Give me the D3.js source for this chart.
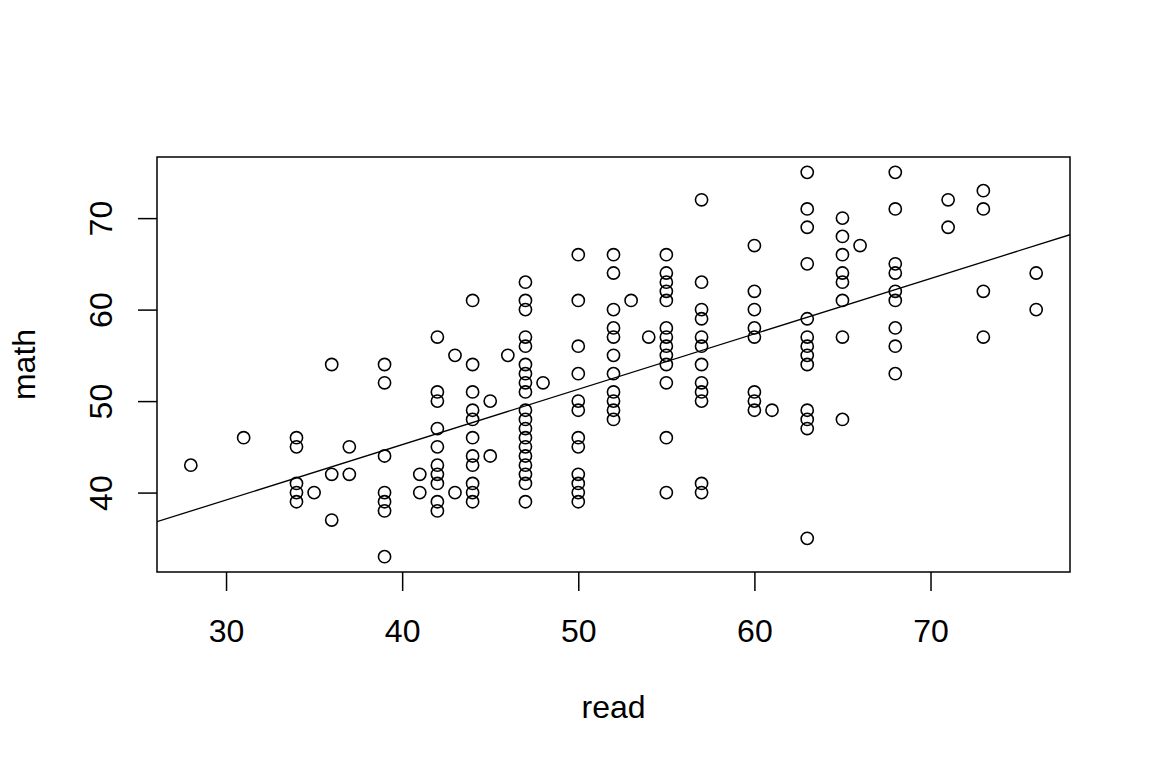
<!DOCTYPE html>
<html>
<head>
<meta charset="utf-8">
<script src="https://cdn.jsdelivr.net/npm/d3@7"></script>
<style>
  html, body { margin: 0; padding: 0; background: #fff; }
  text { font-family: "Liberation Sans", Arial, sans-serif; fill: #000; }
</style>
</head>
<body>
<svg id="chart" width="1152" height="768"></svg>
<script>
// Data: read scores (x) and the math scores observed at each read score (y)
const readValues = [28, 31, 34, 35, 36, 37, 39, 41, 42, 43, 44, 45, 46, 47, 48, 50, 52, 53, 54, 55, 57, 60, 61, 63, 65, 66, 68, 71, 73, 76];
const mathValues = [
  [43],
  [46],
  [46, 45, 41, 40, 39],
  [40],
  [54, 42, 37],
  [45, 42],
  [54, 52, 44, 40, 39, 38, 33],
  [42, 40],
  [57, 51, 50, 47, 45, 43, 42, 41, 39, 38],
  [55, 40],
  [61, 54, 51, 49, 48, 46, 44, 43, 41, 40, 39],
  [50, 44],
  [55],
  [63, 61, 60, 57, 56, 54, 53, 52, 51, 49, 48, 47, 46, 45, 44, 43, 42, 41, 39],
  [52],
  [66, 61, 56, 53, 50, 49, 46, 45, 42, 41, 40, 39],
  [66, 64, 60, 58, 57, 55, 53, 51, 50, 49, 48],
  [61],
  [57],
  [66, 64, 63, 62, 61, 58, 57, 56, 55, 54, 52, 46, 40],
  [72, 63, 60, 59, 57, 56, 54, 52, 51, 50, 41, 40],
  [67, 62, 60, 58, 57, 51, 50, 49],
  [49],
  [75, 71, 69, 65, 59, 57, 56, 55, 54, 49, 48, 47, 35],
  [70, 68, 66, 64, 63, 61, 57, 48],
  [67],
  [75, 71, 65, 64, 62, 61, 58, 56, 53],
  [72, 69],
  [73, 71, 62, 57],
  [64, 60]
];
const xTicks = [30, 40, 50, 60, 70];
const yTicks = [40, 50, 60, 70];
const fitIntercept = 21.0382;
const fitSlope = 0.6051;
const xLabel = "read";
const yLabel = "math";

(function () {
const points = [];
readValues.forEach((r, i) => mathValues[i].forEach(m => points.push({ read: r, math: m })));

const svg = d3.select("#chart");
const pL = 157, pR = 1070, pT = 157, pB = 572;

// R-style 4% axis extension
const xmin = d3.min(points, d => d.read), xmax = d3.max(points, d => d.read);
const ymin = d3.min(points, d => d.math), ymax = d3.max(points, d => d.math);
const xpad = (xmax - xmin) * 0.04, ypad = (ymax - ymin) * 0.04;
const x = d3.scaleLinear().domain([xmin - xpad, xmax + xpad]).range([pL, pR]);
const y = d3.scaleLinear().domain([ymin - ypad, ymax + ypad]).range([pB, pT]);

svg.append("defs").append("clipPath").attr("id", "plotclip")
  .append("rect").attr("x", pL).attr("y", pT).attr("width", pR - pL).attr("height", pB - pT);

// points
svg.append("g").selectAll("circle").data(points).join("circle")
  .attr("cx", d => x(d.read))
  .attr("cy", d => y(d.math))
  .attr("r", 6.1)
  .attr("fill", "none")
  .attr("stroke", "#000")
  .attr("stroke-width", 1.6);

// regression line
const [dx0, dx1] = x.domain();
svg.append("line")
  .attr("clip-path", "url(#plotclip)")
  .attr("x1", x(dx0)).attr("y1", y(fitIntercept + fitSlope * dx0))
  .attr("x2", x(dx1)).attr("y2", y(fitIntercept + fitSlope * dx1))
  .attr("stroke", "#000").attr("stroke-width", 1.3);

// box
svg.append("rect")
  .attr("x", pL).attr("y", pT).attr("width", pR - pL).attr("height", pB - pT)
  .attr("fill", "none").attr("stroke", "#000").attr("stroke-width", 1.5);

// x axis
const xAxis = d3.axisBottom(x).tickValues(xTicks).tickSize(19).tickPadding(0).tickFormat(d3.format("d"));
const gx = svg.append("g").attr("transform", `translate(0,${pB})`).call(xAxis);
gx.select(".domain").remove();
gx.selectAll(".tick line").attr("stroke", "#000").attr("stroke-width", 1.5);
gx.selectAll(".tick text")
  .attr("y", 70).attr("dy", null)
  .style("font-size", "32px").style("font-family", "'Liberation Sans', Arial, sans-serif")
  .attr("fill", "#000");

// y axis
const yAxis = d3.axisLeft(y).tickValues(yTicks).tickSize(19).tickPadding(0).tickFormat(d3.format("d"));
const gy = svg.append("g").attr("transform", `translate(${pL},0)`).call(yAxis);
gy.select(".domain").remove();
gy.selectAll(".tick line").attr("stroke", "#000").attr("stroke-width", 1.5);
gy.selectAll(".tick text")
  .attr("x", null).attr("dy", null)
  .attr("text-anchor", "middle")
  .attr("transform", "translate(-45,0) rotate(-90)")
  .style("font-size", "32px").style("font-family", "'Liberation Sans', Arial, sans-serif")
  .attr("fill", "#000");

// axis titles
svg.append("text")
  .attr("x", (pL + pR) / 2).attr("y", 718)
  .attr("text-anchor", "middle")
  .style("font-size", "32px")
  .text(xLabel);
svg.append("text")
  .attr("transform", `translate(35,${(pT + pB) / 2}) rotate(-90)`)
  .attr("text-anchor", "middle")
  .style("font-size", "32px")
  .text(yLabel);
})();
</script>
</body>
</html>
